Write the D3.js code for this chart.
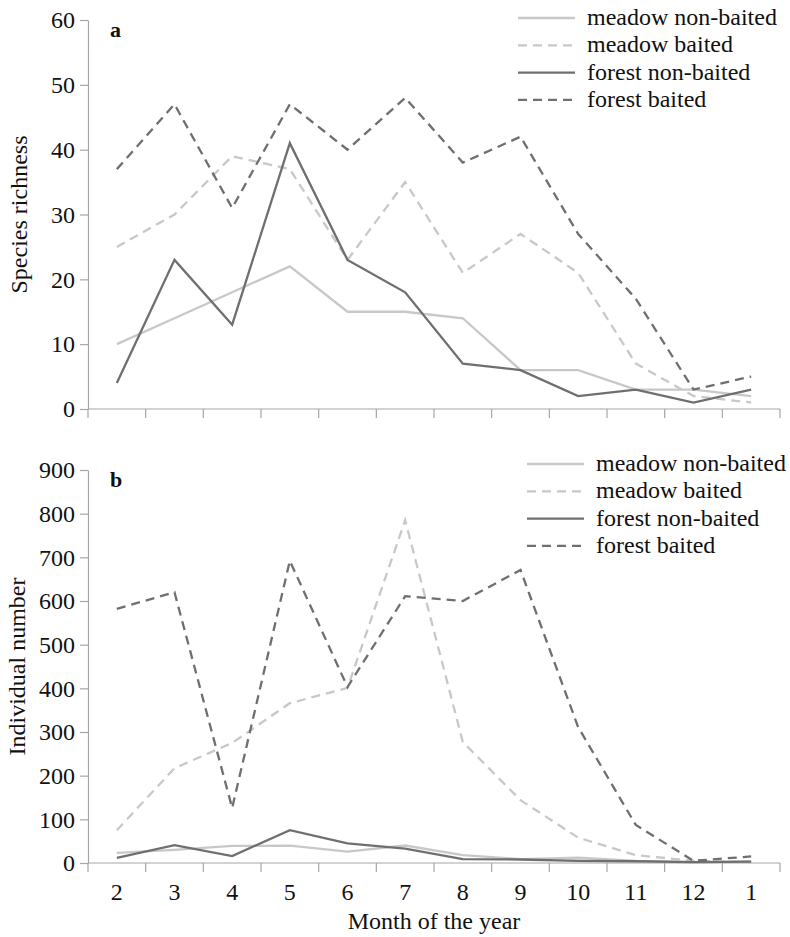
<!DOCTYPE html>
<html>
<head>
<meta charset="utf-8">
<script src="https://cdn.jsdelivr.net/npm/d3@7"></script>
<style>
  body { margin: 0; background: #fff; }
</style>
</head>
<body>
<div id="chart"></div>
<script>
const months = ['2', '3', '4', '5', '6', '7', '8', '9', '10', '11', '12', '1'];
const seriesNames = ['meadow non-baited', 'meadow baited', 'forest non-baited', 'forest baited'];

// panel a: species richness
const richMeadowNon = [10, 14, 18, 22, 15, 15, 14, 6, 6, 3, 3, 2];
const richMeadowBait = [25, 30, 39, 37, 23, 35, 21, 27, 21, 7, 2, 1];
const richForestNon = [4, 23, 13, 41, 23, 18, 7, 6, 2, 3, 1, 3];
const richForestBait = [37, 47, 31, 47, 40, 48, 38, 42, 27, 17, 3, 5];

// panel b: individual number
const indMeadowNon = [23, 30, 39, 40, 26, 40, 18, 9, 12, 5, 2, 3];
const indMeadowBait = [75, 217, 275, 366, 401, 785, 277, 144, 58, 18, 5, 2];
const indForestNon = [12, 41, 16, 75, 45, 33, 9, 8, 5, 4, 2, 3];
const indForestBait = [582, 620, 126, 692, 403, 611, 600, 671, 311, 87, 5, 15];

const richTicks = [0, 10, 20, 30, 40, 50, 60];
const indTicks = [0, 100, 200, 300, 400, 500, 600, 700, 800, 900];

const width = 790;
const height = 937;
const serif = '"Liberation Serif", "Times New Roman", Times, "DejaVu Serif", serif';
const light = '#c8c8c8';
const dark = '#6f6f6f';
const axisCol = '#a6a6a6';
const styles = [
  { color: light, dash: null },
  { color: light, dash: '9,6' },
  { color: dark, dash: null },
  { color: dark, dash: '9,6' },
];

const svg = d3.select('#chart')
  .append('svg')
  .attr('width', width)
  .attr('height', height)
  .style('font-family', serif);

const x = d3.scaleBand()
  .domain(months)
  .range([88, 780]);

function drawPanel(opts) {
  const y = d3.scaleLinear()
    .domain([0, d3.max(opts.ticks)])
    .range([opts.bottom, opts.top]);

  const g = svg.append('g');

  // y axis
  const yAxis = d3.axisLeft(y).tickValues(opts.ticks).tickSize(8).tickSizeOuter(0);
  const ya = g.append('g')
    .attr('transform', 'translate(88,0)')
    .call(yAxis)
    .attr('font-family', null)
    .attr('font-size', null);
  ya.select('.domain').attr('stroke', axisCol).attr('stroke-width', 1.2);
  ya.selectAll('.tick line').attr('stroke', axisCol).attr('stroke-width', 1.2);
  ya.selectAll('.tick text')
    .attr('x', -13)
    .attr('fill', '#111')
    .style('font-family', serif)
    .style('font-size', '24px');

  // x axis: baseline plus boundary ticks
  g.append('line')
    .attr('x1', x.range()[0]).attr('x2', x.range()[1])
    .attr('y1', opts.bottom).attr('y2', opts.bottom)
    .attr('stroke', axisCol).attr('stroke-width', 1.2);
  const bounds = months.map((m) => x(m)).concat([x.range()[1]]);
  g.selectAll('.xtick')
    .data(bounds)
    .join('line')
    .attr('x1', (d) => d).attr('x2', (d) => d)
    .attr('y1', opts.bottom).attr('y2', opts.bottom + 9)
    .attr('stroke', axisCol).attr('stroke-width', 1.2);

  if (opts.labels) {
    g.selectAll('.xlab')
      .data(months)
      .join('text')
      .attr('x', (d) => x(d) + x.bandwidth() / 2)
      .attr('y', opts.bottom + 37)
      .attr('text-anchor', 'middle')
      .attr('fill', '#111')
      .style('font-family', serif)
      .style('font-size', '24px')
      .text((d) => d);
  }

  // y title
  g.append('text')
    .attr('transform', `translate(${opts.titleX},${(opts.top + opts.bottom) / 2}) rotate(-90)`)
    .attr('text-anchor', 'middle')
    .attr('fill', '#111')
    .style('font-family', serif)
    .style('font-size', '24px')
    .text(opts.title);

  // panel letter
  g.append('text')
    .attr('x', 110)
    .attr('y', opts.top + 17)
    .attr('fill', '#111')
    .style('font-family', serif)
    .style('font-size', '22px')
    .style('font-weight', 'bold')
    .text(opts.letter);

  const line = d3.line()
    .x((d, i) => x(months[i]) + x.bandwidth() / 2)
    .y((d) => y(d));

  opts.series.forEach((s, i) => {
    g.append('path')
      .datum(s)
      .attr('d', line)
      .attr('fill', 'none')
      .attr('stroke', styles[i].color)
      .attr('stroke-width', 2.3)
      .attr('stroke-dasharray', styles[i].dash);
  });

  // legend
  const leg = g.append('g');
  seriesNames.forEach((name, i) => {
    const ly = opts.legendY + i * 27.3;
    leg.append('line')
      .attr('x1', opts.legendX).attr('x2', opts.legendX + 57)
      .attr('y1', ly).attr('y2', ly)
      .attr('stroke', styles[i].color)
      .attr('stroke-width', 2.3)
      .attr('stroke-dasharray', styles[i].dash);
    leg.append('text')
      .attr('x', opts.legendX + 69)
      .attr('y', ly + 7)
      .attr('fill', '#111')
      .style('font-family', serif)
      .style('font-size', '24px')
      .text(name);
  });
}

drawPanel({
  top: 20,
  bottom: 409,
  ticks: richTicks,
  series: [richMeadowNon, richMeadowBait, richForestNon, richForestBait],
  title: 'Species richness',
  titleX: 27,
  letter: 'a',
  labels: false,
  legendX: 518,
  legendY: 18,
});

drawPanel({
  top: 470,
  bottom: 863,
  ticks: indTicks,
  series: [indMeadowNon, indMeadowBait, indForestNon, indForestBait],
  title: 'Individual number',
  titleX: 25,
  letter: 'b',
  labels: true,
  legendX: 527,
  legendY: 464,
});

svg.append('text')
  .attr('x', 434)
  .attr('y', 929)
  .attr('text-anchor', 'middle')
  .attr('fill', '#111')
  .style('font-family', serif)
  .style('font-size', '24px')
  .text('Month of the year');
</script>
</body>
</html>
